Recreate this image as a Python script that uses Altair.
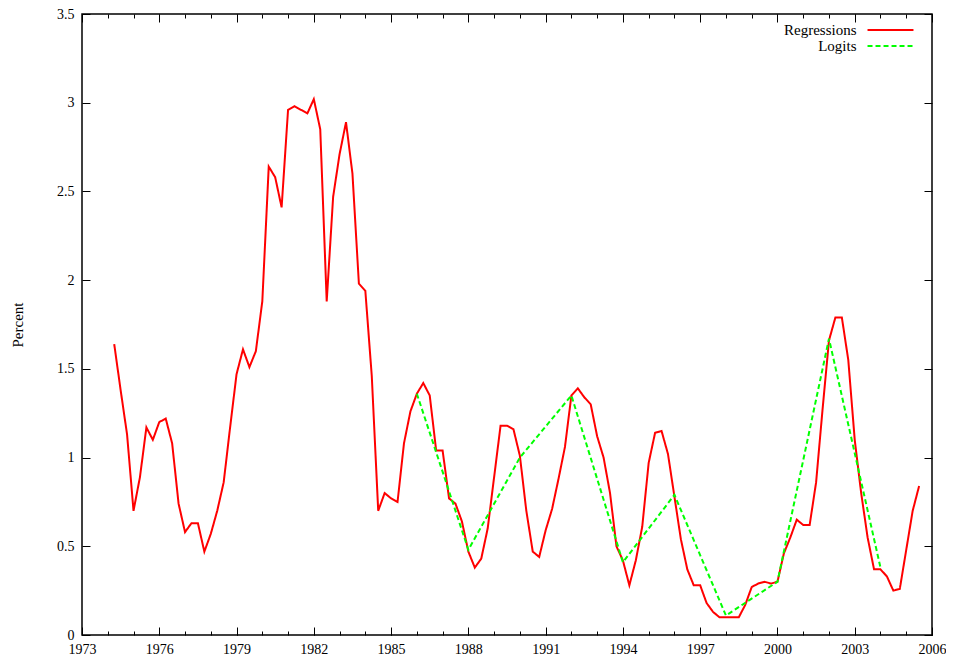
import altair as alt
import pandas as pd

# Quarterly regression-based probabilities, first point 1974 Q2 (1974.25)
reg_start = 1974.25
reg_values = [
    1.64, 1.38, 1.13,
    0.70, 0.89, 1.17, 1.10,   # 1975
    1.20, 1.22, 1.08, 0.74,   # 1976
    0.58, 0.63, 0.63, 0.47,   # 1977
    0.57, 0.70, 0.86, 1.17,   # 1978
    1.47, 1.61, 1.51, 1.60,   # 1979
    1.88, 2.64, 2.58, 2.41,   # 1980
    2.96, 2.98, 2.96, 2.94,   # 1981
    3.02, 2.85, 1.88, 2.47,   # 1982
    2.71, 2.89, 2.60, 1.98,   # 1983
    1.94, 1.46, 0.70, 0.80,   # 1984
    0.77, 0.75, 1.08, 1.26,   # 1985
    1.36, 1.42, 1.35, 1.04,   # 1986
    1.04, 0.77, 0.74, 0.64,   # 1987
    0.47, 0.38, 0.43, 0.60,   # 1988
    0.89, 1.18, 1.18, 1.16,   # 1989
    1.01, 0.70, 0.47, 0.44,   # 1990
    0.59, 0.71, 0.88, 1.06,   # 1991
    1.35, 1.39, 1.34, 1.30,   # 1992
    1.12, 1.00, 0.80, 0.50,   # 1993
    0.42, 0.28, 0.42, 0.61,   # 1994
    0.97, 1.14, 1.15, 1.02,   # 1995
    0.78, 0.54, 0.37, 0.28,   # 1996
    0.28, 0.18, 0.13, 0.10,   # 1997
    0.10, 0.10, 0.10, 0.17,   # 1998
    0.27, 0.29, 0.30, 0.29,   # 1999
    0.30, 0.46, 0.55, 0.65,   # 2000
    0.62, 0.62, 0.86, 1.27,   # 2001
    1.66, 1.79, 1.79, 1.55,   # 2002
    1.10, 0.80, 0.55, 0.37,   # 2003
    0.37, 0.33, 0.25, 0.26,   # 2004
    0.48, 0.70, 0.84,         # 2005
]

logit_years = [1986, 1988, 1990, 1992, 1994, 1996, 1998, 2000, 2002, 2004]
logit_values = [1.36, 0.48, 1.00, 1.35, 0.41, 0.79, 0.11, 0.30, 1.67, 0.38]

series_names = ["Regressions", "Logits"]
series_colors = ["#ff0000", "#00ff00"]
series_dashes = [[1, 0], [5, 3]]

major_years = [1973, 1976, 1979, 1982, 1985, 1988, 1991, 1994, 1997, 2000, 2003, 2006]
minor_years = list(range(1973, 2007))
y_ticks = [0, 0.5, 1, 1.5, 2, 2.5, 3, 3.5]

reg_df = pd.DataFrame({
    "year": [reg_start + 0.25 * i for i in range(len(reg_values))],
    "value": reg_values,
    "series": "Regressions",
})
log_df = pd.DataFrame({"year": logit_years, "value": logit_values, "series": "Logits"})
df = pd.concat([reg_df, log_df], ignore_index=True)

W, H = 850, 621
FONT = "Liberation Serif"

xscale = alt.Scale(domain=[1973, 2006], nice=False, zero=False)
yscale = alt.Scale(domain=[0, 3.5], nice=False, zero=True)

legend = alt.Legend(
    title=None, orient="none", legendX=801, legendY=8.5,
    labelAlign="right", labelOffset={"expr": "-41.5"}, symbolOffset=0,
    labelFont=FONT, labelFontSize=15, labelColor="black",
    symbolType="M-4,0H4", symbolSize=132,
    symbolStrokeWidth=2, rowPadding=0, padding=0, labelLimit=0,
)

lines = alt.Chart(df).mark_line(strokeWidth=2, clip=True).encode(
    x=alt.X("year:Q", scale=xscale, axis=alt.Axis(
        orient="bottom", values=major_years, format="d", tickSize=0,
        labelPadding=7, labelFontSize=14, labelFlush=False, title=None)),
    y=alt.Y("value:Q", scale=yscale, axis=alt.Axis(
        orient="left", values=y_ticks, format="~g", tickSize=0,
        labelPadding=8, labelFontSize=14, labelFlush=False,
        title="Percent", titlePadding=31)),
    color=alt.Color("series:N", scale=alt.Scale(domain=series_names, range=series_colors), legend=legend),
    strokeDash=alt.StrokeDash("series:N", scale=alt.Scale(domain=series_names, range=series_dashes), legend=legend),
)

def tick_layer(x_axis, y_axis):
    return alt.Chart(reg_df).mark_point(opacity=0).encode(
        x=alt.X("year:Q", scale=xscale, axis=x_axis),
        y=alt.Y("value:Q", scale=yscale, axis=y_axis),
    )

l2 = tick_layer(
    alt.Axis(orient="top", offset=-H, values=major_years, tickSize=8, labels=False, title=None),
    alt.Axis(orient="right", offset=-W, values=y_ticks, tickSize=8, labels=False, title=None),
)
l3 = tick_layer(
    alt.Axis(orient="top", offset=-H, values=minor_years, tickSize=4, labels=False, title=None),
    alt.Axis(orient="left", offset=-W, values=y_ticks, tickSize=8, labels=False, title=None),
)
l4 = tick_layer(
    alt.Axis(orient="bottom", offset=-H, values=major_years, tickSize=8, labels=False, title=None),
    None,
)
l5 = tick_layer(
    alt.Axis(orient="bottom", offset=-H, values=minor_years, tickSize=4, labels=False, title=None),
    None,
)

chart = alt.layer(lines, l2, l3, l4, l5).resolve_axis(
    x="independent", y="independent"
).properties(
    width=W, height=H,
    autosize=alt.AutoSizeParams(type="none"),
    padding={"left": 74, "top": 6, "right": 14, "bottom": 21},
).configure(
    font=FONT
).configure_view(
    stroke="black", strokeWidth=1.5
).configure_axis(
    grid=False, domain=False, tickColor="black", tickWidth=1,
    labelFont=FONT, labelFontSize=15, labelColor="black",
    titleFont=FONT, titleFontSize=15, titleFontWeight="normal", titleColor="black",
)

chart.save("out.html", embed_options={"renderer": "svg", "actions": False})
